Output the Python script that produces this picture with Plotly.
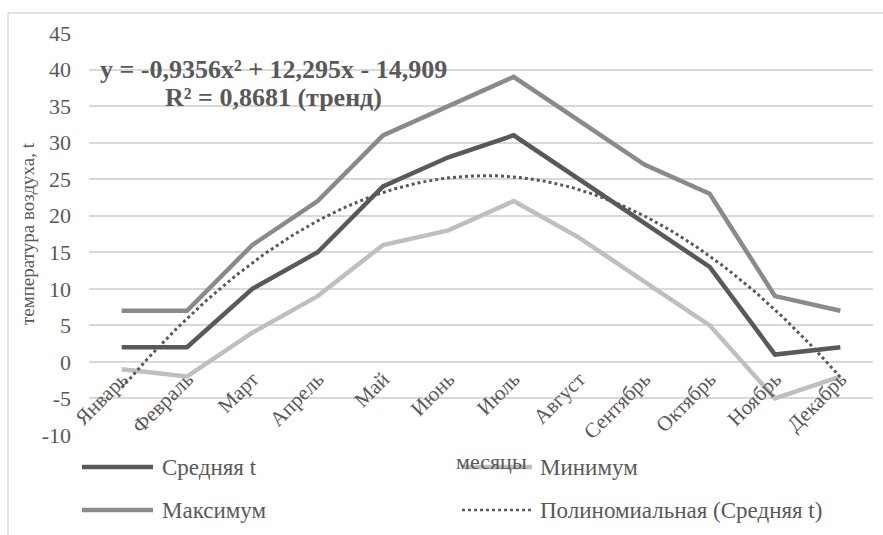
import numpy as np
import plotly.graph_objects as go

months = ["Январь", "Февраль", "Март", "Апрель", "Май", "Июнь", "Июль",
          "Август", "Сентябрь", "Октябрь", "Ноябрь", "Декабрь"]
avg_t = [2, 2, 10, 15, 24, 28, 31, 25, 19, 13, 1, 2]
max_t = [7, 7, 16, 22, 31, 35, 39, 33, 27, 23, 9, 7]
min_t = [-1, -2, 4, 9, 16, 18, 22, 17, 11, 5, -5, -2]
y_ticks = [-10, -5, 0, 5, 10, 15, 20, 25, 30, 35, 40, 45]
y_ticktext = ["-10", "-5", "0", "5", "10", "15", "20", "25", "30", "35", "40", "45"]
trend_line1 = "y = -0,9356x² + 12,295x - 14,909"
trend_line2 = "R² = 0,8681 (тренд)"

idx = np.arange(1, len(months) + 1)
coef = np.polyfit(idx, avg_t, 2)
xs = np.linspace(1, len(months), 200)
trend = np.polyval(coef, xs)

C_AVG = "#595959"
C_MAX = "#8a8a8a"
C_MIN = "#bfbfbf"
C_TXT = "#595959"
C_GRID = "#d9d9d9"
FONT = "Liberation Serif"

W, H = 883, 535
ML, MR, MT, MB = 89, 10, 33, 100
PW, PH = W - ML - MR, H - MT - MB

def px(x):
    return (x - ML) / PW

def py(y):
    return (H - MB - y) / PH

fig = go.Figure()
fig.add_trace(go.Scatter(x=idx, y=avg_t, mode="lines", name="Средняя t",
                         line=dict(color=C_AVG, width=4.5), showlegend=False))
fig.add_trace(go.Scatter(x=idx, y=max_t, mode="lines", name="Максимум",
                         line=dict(color=C_MAX, width=4.5), showlegend=False))
fig.add_trace(go.Scatter(x=idx, y=min_t, mode="lines", name="Минимум",
                         line=dict(color=C_MIN, width=4.5), showlegend=False))
fig.add_trace(go.Scatter(x=xs, y=trend, mode="lines", name="Полиномиальная (Средняя t)",
                         line=dict(color=C_AVG, width=3, dash="dot"), showlegend=False))

ymin, ymax = y_ticks[0], y_ticks[-1]

fig.update_layout(
    width=W, height=H,
    margin=dict(l=ML, r=MR, t=MT, b=MB),
    paper_bgcolor="white", plot_bgcolor="white",
    font=dict(family=FONT, color=C_TXT),
    xaxis=dict(
        tickmode="array", tickvals=list(idx), ticktext=months,
        range=[0.5, len(months) + 0.5],
        tickangle=-45, tickfont=dict(size=21, color=C_TXT, family=FONT),
        showgrid=False, zeroline=False, showline=False, ticks="",
        anchor="free", position=(0 - ymin) / (ymax - ymin),
    ),
    yaxis=dict(
        range=[ymin, ymax], tickmode="array", tickvals=y_ticks, ticktext=y_ticktext,
        tickfont=dict(size=22, color=C_TXT, family=FONT),
        showgrid=True, gridcolor=C_GRID, gridwidth=1.5,
        zeroline=False, showline=False, ticks="",
        ticklabelstandoff=17,
        title=dict(text="температура воздуха, t", font=dict(size=19, color=C_TXT, family=FONT),
                   standoff=2),
    ),
)

annotations = [
    dict(text=trend_line1, xref="paper", yref="paper", x=px(273), y=py(70),
         xanchor="center", yanchor="middle", showarrow=False,
         font=dict(size=26, color=C_TXT, family=FONT, weight="bold")),
    dict(text=trend_line2, xref="paper", yref="paper", x=px(273), y=py(97),
         xanchor="center", yanchor="middle", showarrow=False,
         font=dict(size=26, color=C_TXT, family=FONT, weight="bold")),
    dict(text="месяцы", xref="paper", yref="paper", x=px(491), y=py(461),
         xanchor="center", yanchor="middle",
         showarrow=False, font=dict(size=22, color=C_TXT, family=FONT)),
]

legend_items = [
    ("Средняя t", C_AVG, "solid", 4.5, 82, 153, 160, 467),
    ("Минимум", C_MIN, "solid", 4.5, 462, 532, 538, 467),
    ("Максимум", C_MAX, "solid", 4.5, 82, 153, 160, 510),
    ("Полиномиальная (Средняя t)", C_AVG, "dot", 2.5, 462, 532, 538, 510),
]
shapes = []
for name, col, dash, wd, x0, x1, tx, yy in legend_items:
    shapes.append(dict(type="line", xref="paper", yref="paper", x0=px(x0), x1=px(x1),
                       y0=py(yy), y1=py(yy), line=dict(color=col, width=wd, dash=dash),
                       layer="above"))
    annotations.append(dict(text=name, xref="paper", yref="paper", x=px(tx), y=py(yy),
                            xanchor="left", yanchor="middle", showarrow=False,
                            font=dict(size=23, color=C_TXT, family=FONT)))

# chart border (top and left)
shapes.append(dict(type="line", xref="paper", yref="paper", x0=px(8), x1=px(W + 5),
                   y0=py(13), y1=py(13), line=dict(color=C_GRID, width=1.5), layer="below"))
shapes.append(dict(type="line", xref="paper", yref="paper", x0=px(8), x1=px(8),
                   y0=py(13), y1=py(H + 5), line=dict(color=C_GRID, width=1.5), layer="below"))

fig.update_layout(annotations=annotations, shapes=shapes)
fig.write_html("out.html")
